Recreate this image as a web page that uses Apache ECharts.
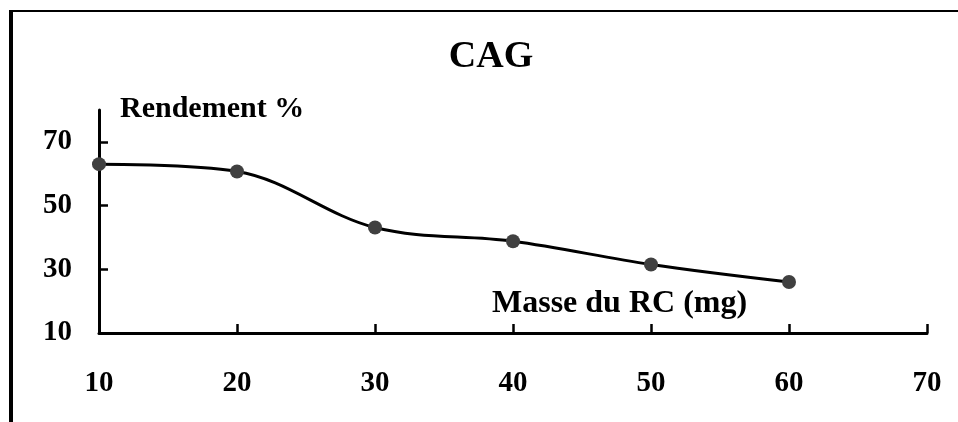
<!DOCTYPE html>
<html>
<head>
<meta charset="utf-8">
<title>CAG</title>
<script src="https://cdn.jsdelivr.net/npm/echarts@6/dist/echarts.min.js"></script>
<style>
    html, body {
        margin: 0;
        padding: 0;
        background: #fff;
        overflow: hidden;
    }
    #chart {
        width: 958px;
        height: 422px;
    }
    /* cadre noir en haut et a gauche */
    .frame {
        position: absolute;
        left: 9px;
        top: 10px;
        width: 960px;
        height: 420px;
        border-top: 2px solid #000;
        border-left: 4px solid #000;
        pointer-events: none;
    }
</style>
</head>
<body>
<div id="chart"></div>
<div class="frame"></div>
<script>
  // donnees
  const masse = [10, 20, 30, 40, 50, 60]
  const rendement = [63, 60.7, 43.1, 38.8, 31.5, 26]
  const yTicks = [10, 30, 50, 70]
  const xTicks = [10, 20, 30, 40, 50, 60, 70]

  const serif = '"Times New Roman", "Liberation Serif", serif'

  let myChart = echarts.init(document.getElementById('chart'))
  myChart.setOption({
    animation: false,
    title: {
      text: 'CAG',
      left: 486,
      top: 33,
      textAlign: 'center',
      textStyle: {
        fontFamily: serif,
        fontWeight: 'bold',
        fontSize: 38,
        color: '#000'
      }
    },
    grid: {
      left: 99,
      right: 31,
      top: 110,
      bottom: 89,
      containLabel: false
    },
    xAxis: {
      type: 'value',
      min: 10,
      max: 70,
      interval: 10,
      axisLine: { lineStyle: { color: '#000', width: 3 } },
      axisTick: {
        inside: true,
        length: 9,
        customValues: xTicks,
        lineStyle: { color: '#000', width: 2.5 }
      },
      axisLabel: {
        margin: 36,
        customValues: xTicks,
        fontFamily: serif,
        fontWeight: 'bold',
        fontSize: 29,
        color: '#000'
      },
      splitLine: { show: false }
    },
    yAxis: {
      type: 'value',
      min: 10,
      max: 80,
      interval: 20,
      axisLine: { show: true, lineStyle: { color: '#000', width: 3 } },
      axisTick: {
        show: true,
        inside: true,
        length: 9,
        customValues: yTicks,
        lineStyle: { color: '#000', width: 2.5 }
      },
      axisLabel: {
        margin: 27,
        customValues: yTicks,
        fontFamily: serif,
        fontWeight: 'bold',
        fontSize: 29,
        color: '#000'
      },
      splitLine: { show: false }
    },
    // titres des axes
    graphic: [
      {
        type: 'text',
        left: 120,
        top: 94,
        style: {
          text: 'Rendement %',
          font: 'bold 30px ' + serif,
          fill: '#000'
        }
      },
      {
        type: 'text',
        left: 492,
        top: 288,
        style: {
          text: 'Masse du RC (mg)',
          font: 'bold 32px ' + serif,
          fill: '#000'
        }
      }
    ],
    series: [{
      type: 'line',
      data: masse.map((m, i) => [m, rendement[i]]),
      smooth: 0.35,
      symbol: 'circle',
      symbolSize: 14,
      lineStyle: { color: '#000', width: 3 },
      itemStyle: { color: '#404040' }
    }]
  })
</script>
</body>
</html>
